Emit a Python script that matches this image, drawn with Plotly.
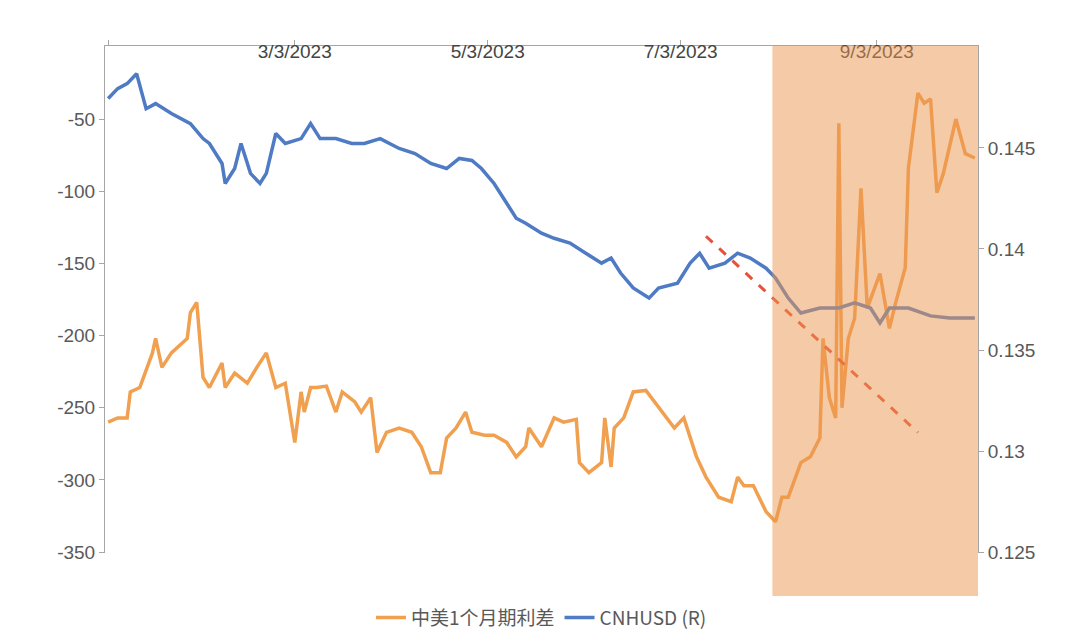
import datetime as dt
import plotly.graph_objects as go

start = dt.date(2023, 1, 3)

spread_days = [0,3,6,7,10,14,15,17,20,25,26,28,30,32,36,37,40,44,47,50,53,56,59,61,62,64,66,69,72,74,78,80,83,85,88,92,96,99,102,105,107,110,113,115,119,122,126,129,132,133,137,141,144,148,149,152,156,157,159,160,163,166,170,174,179,182,186,189,193,197,199,201,204,208,211,213,215,219,222,225,226,228,230,231,232,234,236,238,240,244,247,249,252,253,256,258,260,262,264,268,271,274]
spread_vals = [-260,-257,-257,-239,-236,-212,-202,-222,-212,-202,-184,-177,-229,-236,-219,-236,-226,-233,-222,-212,-236,-233,-274,-239,-253,-236,-236,-235,-253,-239,-246,-253,-243,-281,-267,-264,-267,-277,-295,-295,-271,-264,-253,-267,-269,-269,-274,-284,-277,-264,-277,-257,-260,-258,-288,-295,-288,-257,-291,-264,-257,-239,-238,-250,-264,-257,-284,-298,-312,-315,-298,-304,-304,-322,-329,-312,-312,-288,-284,-271,-202,-243,-257,-53,-250,-202,-188,-98,-181,-157,-195,-177,-153,-84,-32,-39,-36,-101,-88,-50,-74,-77]

cnh_days = [0,3,6,9,12,15,20,26,30,32,36,37,40,42,45,48,50,53,56,61,64,67,72,77,81,86,92,97,102,107,111,115,118,122,126,129,132,137,141,146,151,156,159,162,166,171,174,180,184,187,190,195,199,203,208,211,215,219,225,231,236,241,244,247,253,260,266,274]
cnh_vals = [.14744,.14793,.14818,.14867,.14694,.14719,.14670,.14620,.14546,.14522,.14423,.14324,.14398,.14522,.14374,.14324,.14374,.14571,.14522,.14546,.14620,.14546,.14546,.14522,.14522,.14546,.14497,.14472,.14423,.14398,.14448,.14438,.14398,.14324,.14226,.14152,.14127,.14078,.14053,.14029,.13979,.13930,.13955,.13881,.13807,.13757,.13807,.13831,.13930,.13979,.13905,.13930,.13979,.13955,.13905,.13856,.13757,.13683,.13708,.13708,.13733,.13708,.13634,.13708,.13708,.13669,.13659,.13659]

trend_days = [189, 256]
trend_vals = [0.14063, 0.13092]

tick_dates = ["2023-01-03", "2023-03-03", "2023-05-03", "2023-07-03", "2023-09-03"]
tick_text = ["1/3/2023", "3/3/2023", "5/3/2023", "7/3/2023", "9/3/2023"]
left_ticks = [0, -50, -100, -150, -200, -250, -300, -350]
right_ticks = [0.125, 0.13, 0.135, 0.14, 0.145, 0.15]

n = min(len(spread_days), len(spread_vals))
m = min(len(cnh_days), len(cnh_vals))
d = lambda k: start + dt.timedelta(days=k)

fig = go.Figure()
fig.add_trace(go.Scatter(x=[d(k) for k in spread_days[:n]], y=spread_vals[:n], name="中美1个月期利差",
                         mode="lines", line=dict(color="#F0A04F", width=3.5)))
fig.add_trace(go.Scatter(x=[d(k) for k in cnh_days[:m]], y=cnh_vals[:m], name="CNHUSD (R)", yaxis="y2",
                         mode="lines", line=dict(color="#4F7AC4", width=3.5)))
fig.add_trace(go.Scatter(x=[d(k) for k in trend_days], y=trend_vals, yaxis="y2", showlegend=False,
                         mode="lines", line=dict(color="#E8503A", width=3, dash="dash")))

fig.add_shape(type="rect", xref="x", yref="paper", x0=d(210), x1=d(278), y0=-0.085, y1=1,
              fillcolor="rgba(236,150,80,0.5)", line_width=0, layer="above")

axcol = "#A6A6A6"
fig.update_layout(
    width=1080, height=640, paper_bgcolor="white", plot_bgcolor="white",
    margin=dict(l=97, r=110, t=38, b=95, autoexpand=False),
    font=dict(family="Liberation Sans, Noto Sans CJK SC", size=19, color="#595959"),
    xaxis=dict(range=[d(-0.4), d(275)], side="top", tickvals=tick_dates, ticktext=tick_text,
               ticklabelposition="inside", showline=True, linecolor=axcol, ticks="outside",
               ticklen=5, tickcolor=axcol, showgrid=False, zeroline=False),
    yaxis=dict(range=[-350.6, 0.6], tickvals=left_ticks, ticktext=[str(v) for v in left_ticks],
               showline=True, linecolor=axcol, ticks="outside",
               tickcolor=axcol, ticklen=5, showgrid=False, zeroline=False),
    yaxis2=dict(range=[0.12496, 0.15004], tickvals=right_ticks, ticktext=[f"{v:g}" for v in right_ticks],
                overlaying="y", side="right", showline=True,
                linecolor=axcol, ticks="outside", tickcolor=axcol, ticklen=5, showgrid=False,
                zeroline=False),
    legend=dict(orientation="h", x=0.5, xanchor="center", y=-0.09, yanchor="top",
                font=dict(family="Noto Sans CJK SC, Liberation Sans", size=19)),
)
fig.write_html("out.html")
